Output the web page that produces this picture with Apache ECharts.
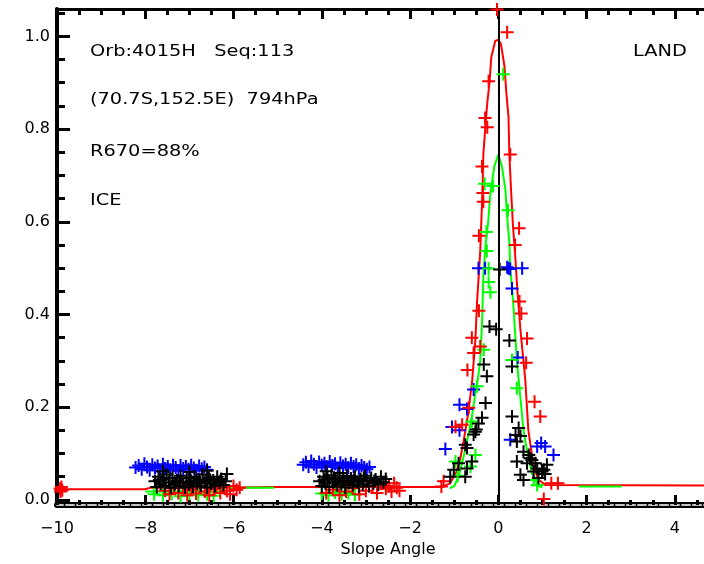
<!DOCTYPE html>
<html>
<head>
<meta charset="utf-8">
<title>Slope Angle</title>
<script src="https://cdn.jsdelivr.net/npm/echarts@6/dist/echarts.min.js"></script>
<style>
  html, body { margin: 0; padding: 0; background: #fff; }
  #chart { width: 704px; height: 564px; }
</style>
</head>
<body>
<div id="chart"></div>
<script>
// ---- axis ticks ----
const yMajorTicks = [0.0, 0.2, 0.4, 0.6, 0.8, 1.0];
const yMinorTicks = [0.05, 0.1, 0.15, 0.25, 0.3, 0.35, 0.45, 0.5, 0.55, 0.65, 0.7, 0.75, 0.85, 0.9, 0.95, 1.05];
const zeroSlope = 0;

// ---- fitted curves (slope angle, value) ----
const redCurve = [
  [-10, 0.023], [-8.0, 0.023], [-7.9, 0.026], [-6.3, 0.026], [-5.1, 0.028], [-1.3, 0.028],
  [-1.1, 0.035], [-0.95, 0.06], [-0.86, 0.09], [-0.79, 0.125], [-0.68, 0.188], [-0.59, 0.26],
  [-0.52, 0.346], [-0.48, 0.43], [-0.41, 0.536], [-0.36, 0.665], [-0.34, 0.745], [-0.29, 0.81],
  [-0.25, 0.857], [-0.2, 0.9], [-0.16, 0.955], [-0.07, 0.99], [0.0, 0.993], [0.06, 0.983],
  [0.14, 0.935], [0.18, 0.88], [0.23, 0.827], [0.25, 0.745], [0.29, 0.665], [0.33, 0.594],
  [0.38, 0.53], [0.43, 0.454], [0.5, 0.367], [0.61, 0.26], [0.68, 0.151], [0.79, 0.076],
  [0.9, 0.045], [1.06, 0.032], [5.0, 0.031]
];
const greenCurve = [
  [-8.0, 0.018], [-6.25, 0.018], [-6.25, 0.026], [-5.08, 0.026], [-5.0, '-'],
  [-1.1, 0.025], [-1.0, 0.03], [-0.9, 0.05], [-0.82, 0.08], [-0.7, 0.13], [-0.6, 0.18],
  [-0.52, 0.23], [-0.45, 0.27], [-0.41, 0.3], [-0.37, 0.38], [-0.34, 0.48], [-0.29, 0.55],
  [-0.23, 0.6], [-0.18, 0.66], [-0.09, 0.72], [0.0, 0.745], [0.08, 0.72], [0.16, 0.67],
  [0.2, 0.61], [0.25, 0.555], [0.27, 0.5], [0.33, 0.435], [0.38, 0.36], [0.43, 0.29],
  [0.5, 0.22], [0.57, 0.15], [0.68, 0.09], [0.77, 0.055], [0.9, 0.03], [1.0, 0.027],
  [1.5, '-'], [1.82, 0.029], [2.8, 0.029]
];

// ---- observations (slope angle, value) ----
const bluePoints = [
  [-8.22,0.070],[-8.15,0.074],[-8.08,0.066],[-8.02,0.078],[-7.96,0.071],[-7.90,0.064],[-7.84,0.076],
  [-7.78,0.069],[-7.72,0.073],[-7.66,0.062],[-7.60,0.077],[-7.55,0.068],[-7.49,0.072],[-7.43,0.065],
  [-7.37,0.075],[-7.31,0.070],[-7.25,0.063],[-7.20,0.074],[-7.14,0.068],[-7.08,0.072],[-7.02,0.066],
  [-6.96,0.075],[-6.90,0.069],[-6.84,0.064],[-6.78,0.073],[-6.72,0.067],[-6.66,0.071],[-6.60,0.065],
  [-4.42,0.076],[-4.36,0.081],[-4.30,0.072],[-4.24,0.084],[-4.18,0.077],[-4.12,0.070],[-4.06,0.082],
  [-4.00,0.075],[-3.94,0.079],[-3.88,0.071],[-3.82,0.083],[-3.76,0.074],[-3.70,0.078],[-3.64,0.069],
  [-3.58,0.080],[-3.52,0.073],[-3.46,0.077],[-3.40,0.070],[-3.34,0.079],[-3.28,0.072],[-3.22,0.076],
  [-3.16,0.068],[-3.10,0.074],[-3.04,0.070],[-2.98,0.066],[-2.92,0.071],
  [-0.45,0.500],[-0.30,0.500],[0.20,0.502],[0.23,0.500],[0.27,0.498],[0.54,0.500],[0.31,0.456],
  [0.44,0.307],[-0.56,0.238],[-0.88,0.205],[-0.71,0.196],[-1.05,0.157],[-0.88,0.150],[-1.20,0.110],
  [0.27,0.130],[0.88,0.115],[0.97,0.123],[1.06,0.115],[1.25,0.097]
];
const blackPoints = [
  [-7.78,0.040],[-7.74,0.028],[-7.70,0.050],[-7.65,0.035],[-7.60,0.045],[-7.56,0.030],[-7.52,0.055],
  [-7.47,0.038],[-7.42,0.026],[-7.38,0.048],[-7.33,0.034],[-7.28,0.042],[-7.24,0.030],[-7.20,0.052],
  [-7.15,0.037],[-7.10,0.027],[-7.06,0.046],[-7.01,0.033],[-6.96,0.041],[-6.92,0.029],[-6.88,0.050],
  [-6.83,0.036],[-6.78,0.044],[-6.74,0.031],[-6.70,0.055],[-6.65,0.039],[-6.60,0.027],[-6.56,0.047],
  [-6.51,0.035],[-6.46,0.042],[-6.42,0.030],[-6.37,0.050],[-6.32,0.037],[-6.28,0.045],[-6.23,0.032],
  [-6.18,0.040],[-7.60,0.062],[-7.00,0.060],[-6.60,0.063],[-6.15,0.056],
  [-7.68,0.043],[-7.45,0.047],[-7.22,0.039],[-6.98,0.048],[-6.76,0.037],[-6.53,0.043],[-6.30,0.041],
  [-4.05,0.040],[-4.00,0.030],[-3.96,0.050],[-3.92,0.036],[-3.87,0.045],[-3.83,0.028],[-3.78,0.053],
  [-3.74,0.038],[-3.70,0.044],[-3.65,0.031],[-3.60,0.049],[-3.56,0.035],[-3.52,0.042],[-3.47,0.027],
  [-3.43,0.052],[-3.38,0.037],[-3.34,0.046],[-3.30,0.032],[-3.25,0.050],[-3.20,0.039],[-3.16,0.029],
  [-3.12,0.045],[-3.07,0.034],[-3.02,0.052],[-2.98,0.040],[-2.93,0.030],[-2.88,0.047],[-2.83,0.036],
  [-2.78,0.044],[-2.72,0.033],[-2.66,0.050],[-2.60,0.038],[-2.55,0.045],[-3.90,0.062],[-3.60,0.058],
  [-3.95,0.043],[-3.72,0.048],[-3.49,0.040],[-3.27,0.043],[-3.05,0.046],[-2.81,0.041],
  [0.03,0.497],[-0.20,0.374],[-0.05,0.368],[0.25,0.344],[0.31,0.288],[-0.33,0.292],[-0.26,0.267],
  [-0.29,0.209],[0.31,0.180],[-0.37,0.177],[-0.52,0.147],[-0.56,0.141],[-0.45,0.165],[-0.50,0.152],
  [-0.71,0.112],[-0.75,0.119],[-0.90,0.079],[-0.71,0.068],[-0.60,0.083],[-1.09,0.050],[-0.75,0.050],
  [-1.01,0.065],[0.46,0.155],[0.39,0.140],[0.50,0.138],[0.42,0.126],[0.57,0.104],[0.69,0.097],
  [0.76,0.086],[0.84,0.079],[0.88,0.068],[0.65,0.079],[0.50,0.054],[0.80,0.061],[1.10,0.076],
  [1.03,0.065],[0.42,0.083],[0.72,0.090],[0.57,0.043],[0.91,0.047],[0.99,0.061],[1.06,0.056]
];
const redPoints = [
  [-9.92,0.018],[-9.90,0.028],[-9.93,0.024],[-9.88,0.021],
  [-7.55,0.020],[-7.45,0.012],[-7.35,0.025],[-7.25,0.015],[-7.15,0.030],[-7.05,0.010],[-6.95,0.022],
  [-6.85,0.014],[-6.75,0.028],[-6.65,0.018],[-6.55,0.010],[-6.45,0.024],[-6.38,0.032],[-6.30,0.015],
  [-6.22,0.027],[-6.15,0.020],[-6.08,0.012],[-6.00,0.030],[-5.93,0.022],[-5.86,0.026],
  [-3.90,0.015],[-3.75,0.022],[-3.60,0.010],[-3.45,0.018],[-3.30,0.025],[-3.15,0.012],[-3.00,0.020],
  [-2.85,0.028],[-2.75,0.015],[-2.65,0.035],[-2.55,0.024],[-2.48,0.030],[-2.42,0.018],[-2.36,0.036],
  [-2.30,0.026],[-2.24,0.020],
  [-0.03,1.058],[0.20,1.009],[-0.22,0.903],[-0.30,0.824],[-0.25,0.804],[-0.37,0.719],[0.27,0.745],
  [-0.35,0.662],[-0.34,0.643],[0.47,0.586],[-0.44,0.570],[0.38,0.550],[0.48,0.428],[-0.44,0.408],
  [0.52,0.402],[-0.60,0.350],[0.65,0.348],[-0.41,0.331],[-0.56,0.317],[0.63,0.296],[-0.70,0.280],
  [-0.67,0.199],[-0.82,0.162],[-0.97,0.158],[0.82,0.212],[0.95,0.180],[1.20,0.036],[1.35,0.036],
  [1.03,0.002],[-1.24,0.040],[-1.29,0.029]
];
const greenPoints = [
  [-7.80,0.012],[-7.60,0.010],[-7.40,0.014],[-7.20,0.008],[-7.00,0.013],[-6.80,0.010],[-6.60,0.012],
  [-6.45,0.009],[-4.00,0.014],[-3.85,0.010],[-3.70,0.016],[-3.55,0.012],[-3.40,0.015],[-3.25,0.011],
  [0.11,0.918],[-0.12,0.677],[-0.31,0.682],[0.22,0.625],[-0.27,0.578],[-0.26,0.537],[-0.22,0.499],
  [-0.22,0.470],[-0.18,0.448],[-0.33,0.324],[0.31,0.302],[-0.48,0.245],[0.42,0.241],[-0.60,0.169],
  [-0.52,0.097],[-0.63,0.072],[-0.97,0.083],[-0.92,0.052],[0.80,0.043],[0.88,0.032]
];

const chart = echarts.init(document.getElementById('chart'), null, { renderer: 'canvas' });

const FONT = '"DejaVu Sans", "Liberation Sans", sans-serif';
const PLUS = 'path://M5.5,0h2v5.5h5.5v2h-5.5v5.5h-2v-5.5h-5.5v-2h5.5z';
const yMin = -0.011, yMax = 1.059;

function note(text, x, y) {
  return {
    type: 'text', x: x, y: y, scaleX: 1.21, z: 10,
    style: { text: text, fill: '#000', fontSize: 16, fontFamily: FONT, verticalAlign: 'middle' }
  };
}

function scatter(name, points, color, z) {
  return {
    name: name, type: 'scatter', data: points, symbol: PLUS, symbolSize: 13,
    itemStyle: { color: color, opacity: 1 }, z: z, clip: true, silent: true
  };
}

const option = {
  animation: false,
  backgroundColor: '#fff',
  grid: { left: 57, top: 9, width: 662, height: 496, containLabel: false, outerBoundsMode: 'none' },
  xAxis: [
    {
      type: 'value', position: 'bottom', min: -10, max: 5, interval: 2,
      axisLine: { onZero: false, lineStyle: { color: '#000', width: 6 } },
      axisTick: { inside: true, length: 10, lineStyle: { color: '#000', width: 3 } },
      minorTick: { show: true, splitNumber: 4, length: 5, lineStyle: { color: '#000', width: 3 } },
      splitLine: { show: false },
      axisLabel: {
        color: '#000', fontSize: 16, fontFamily: FONT, margin: 16,
        formatter: v => String(v).replace('-', '\u2212')
      },
      name: 'Slope Angle', nameLocation: 'middle', nameGap: 37,
      nameTextStyle: { color: '#000', fontSize: 16, fontFamily: FONT }
    },
    {
      type: 'value', position: 'top', min: -10, max: 5, interval: 2,
      axisLine: { onZero: false, lineStyle: { color: '#000', width: 3 } },
      axisTick: { inside: true, length: 10, lineStyle: { color: '#000', width: 3 } },
      minorTick: { show: true, splitNumber: 4, length: 6, lineStyle: { color: '#000', width: 3 } },
      splitLine: { show: false },
      axisLabel: { show: false }
    },
    {
      type: 'value', position: 'bottom', min: -10, max: 5,
      axisLine: { onZero: false, lineStyle: { color: '#c4c4c4', width: 2, type: [8, 3], dashOffset: 2 } },
      axisTick: { show: false }, splitLine: { show: false }, axisLabel: { show: false }
    }
  ],
  yAxis: [
    {
      type: 'value', position: 'left', min: yMin, max: yMax,
      axisLine: { onZero: false, lineStyle: { color: '#000', width: 4 } },
      axisTick: { inside: true, length: 13, customValues: yMajorTicks, lineStyle: { color: '#000', width: 3 } },
      axisLabel: {
        customValues: yMajorTicks, color: '#000', fontSize: 16, fontFamily: FONT, margin: 7,
        formatter: v => v.toFixed(1)
      },
      splitLine: { show: false }
    },
    {
      type: 'value', position: 'left', min: yMin, max: yMax,
      axisLine: { show: false, onZero: false },
      axisTick: { inside: true, length: 8, customValues: yMinorTicks, lineStyle: { color: '#000', width: 3 } },
      axisLabel: { show: false },
      splitLine: { show: false }
    }
  ],
  graphic: [
    note('Orb:4015H   Seq:113', 90, 52),
    note('(70.7S,152.5E)  794hPa', 90, 100),
    note('R670=88%', 90, 152),
    note('ICE', 90, 201),
    note('LAND', 633, 52)
  ],
  series: [
    {
      name: 'fit red', type: 'line', data: redCurve, showSymbol: false, symbol: 'none',
      lineStyle: { color: '#ff0000', width: 2 }, z: 2, silent: true
    },
    {
      name: 'fit green', type: 'line', data: greenCurve, showSymbol: false, symbol: 'none',
      connectNulls: false, lineStyle: { color: '#00ff00', width: 2 }, z: 3, silent: true
    },
    scatter('blue', bluePoints, '#0000ff', 4),
    scatter('green', greenPoints, '#00ff00', 5),
    scatter('red', redPoints, '#ff0000', 6),
    Object.assign(scatter('black', blackPoints, '#000000', 7), {
      markLine: {
        silent: true, symbol: 'none', label: { show: false },
        lineStyle: { color: '#000', width: 2, type: 'solid' },
        data: [{ xAxis: zeroSlope }]
      }
    })
  ]
};

chart.setOption(option);
</script>
</body>
</html>
